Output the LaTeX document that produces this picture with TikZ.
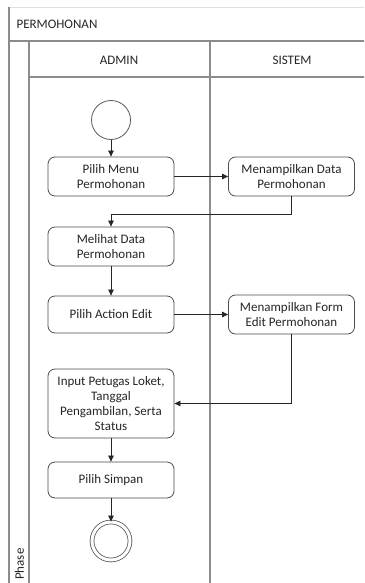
\documentclass[tikz,border=0pt]{standalone}
\usepackage{fontspec}
\setmainfont{Carlito}
\usetikzlibrary{arrows.meta}
\begin{document}
\begin{tikzpicture}[x=1pt,y=-1pt,
  lane/.style={draw=black!45,line width=1.4pt},
  act/.style={draw=black!70,line width=0.8pt,rounded corners=7pt,fill=white,
    minimum width=126pt,minimum height=39pt,align=center,inner sep=2pt,
    font=\fontsize{13}{15.3}\selectfont,text=black!85},
  flow/.style={draw=black!85,line width=0.7pt,-{Triangle[length=6pt,width=5.5pt]}},
  label/.style={font=\fontsize{13}{15.3}\selectfont,text=black!85}]
\useasboundingbox (0,0) rectangle (364,583);
\begin{scope}
\clip (0,0) rectangle (364,583);
% pool and lane frames
\draw[draw=black!12,line width=0.8pt] (9,7) -- (370,7);
\draw[lane] (9,7) -- (9,590);
\draw[lane] (9,41) -- (370,41);
\draw[lane] (29,41) -- (29,590);
\draw[lane] (29,77) -- (370,77);
\draw[lane] (210,41) -- (210,590);
\node[label,anchor=west] (pool) at (13,24) {PERMOHONAN};
\node[label] (admin) at (119,60) {ADMIN};
\node[label] (sistem) at (292,60) {SISTEM};
\node[label,rotate=90,inner sep=1pt,anchor=west] (phase) at (19.5,581) {Phase};
\end{scope}
% start and end
\node[circle,draw=black!65,line width=0.8pt,minimum size=39pt,inner sep=0pt] (start) at (111,120) {};
\node[circle,draw=black!65,line width=0.8pt,minimum size=38pt,inner sep=0pt,
  double=white,double distance=3pt] (end) at (111,541) {};
% activities
\node[act] (menu) at (111,176.5) {Pilih Menu\\Permohonan};
\node[act] (sdata) at (291.5,176.5) {Menampilkan Data\\Permohonan};
\node[act] (lihat) at (111,246.5) {Melihat Data\\Permohonan};
\node[act,minimum height=37pt] (edit) at (111,314.5) {Pilih Action Edit};
\node[act] (sform) at (291.5,314.5) {Menampilkan Form\\Edit Permohonan};
\node[act,minimum height=69pt] (input) at (111,403.5) {Input Petugas Loket,\\Tanggal\\Pengambilan, Serta\\Status};
\node[act,minimum height=36pt] (simpan) at (111,480) {Pilih Simpan};
% control flow
\draw[flow] (start) -- (menu);
\draw[flow] (menu) -- (sdata);
\draw[flow] (sdata.south) -- ++(0,18) -| (lihat.north);
\draw[flow] (lihat) -- (edit);
\draw[flow] (edit) -- (sform);
\draw[flow] (sform.south) |- (input.east);
\draw[flow] (input) -- (simpan);
\draw[flow] (simpan) -- (end);
\end{tikzpicture}
\end{document}
